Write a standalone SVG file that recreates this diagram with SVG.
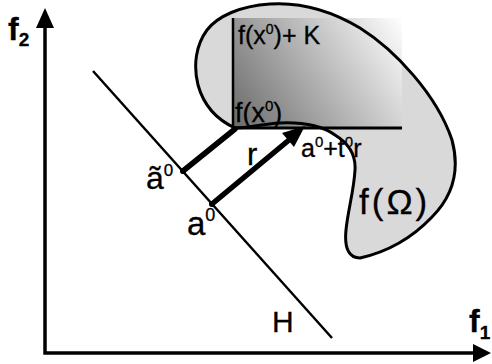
<svg xmlns="http://www.w3.org/2000/svg" width="492" height="364" viewBox="0 0 492 364">
<style>
.lbl{font-family:"Liberation Sans",Arial,sans-serif;fill:#000;stroke:#000;stroke-width:0.3}
.ax{stroke:#000;stroke-width:3.5;fill:none}
.thick{stroke:#000;stroke-width:5.5;fill:none;stroke-linecap:round}
.thin{stroke:#000;stroke-width:2.5;fill:none}
</style>
<defs>
<linearGradient id="cg" gradientUnits="userSpaceOnUse" x1="233" y1="128" x2="402" y2="18">
<stop offset="0" stop-color="#6a6a6a"/>
<stop offset="1" stop-color="#ffffff"/>
</linearGradient>
</defs>
<rect width="492" height="364" fill="#fff"/>
<g id="region">
<path id="blobfill" d="M235,128 C222,122 205,110 198,85 C193,65 196,45 207,30 C218,16 240,6 270,4 C300,2 330,10 360,28 C395,50 437,95 452,140 C460,170 454,195 432,217 C412,238 387,252 360,258 C350,258 344,250 346,230 C348,210 354,190 355,170 C356,155 348,143 335,135 C322,126 305,122 280,123 C262,124 248,128 235,128 Z" fill="#d9d9d9"/>
</g>
<g id="cone">
<rect x="233" y="18" width="169" height="110" fill="url(#cg)"/>
<line class="thin" x1="233" y1="18" x2="233" y2="129"/>
<line x1="232" y1="128" x2="402" y2="128" stroke="#000" stroke-width="3"/>
<text class="lbl" x="238" y="44" font-size="25">f(x<tspan font-size="14" dy="-10">0</tspan><tspan dy="10">)+ K</tspan></text>
<text class="lbl" x="235" y="122" font-size="27">f(x<tspan font-size="15" dy="-11">0</tspan><tspan dy="11">)</tspan></text>
</g>
<g id="region-outline">
<path d="M235,128 C222,122 205,110 198,85 C193,65 196,45 207,30 C218,16 240,6 270,4 C300,2 330,10 360,28 C395,50 437,95 452,140 C460,170 454,195 432,217 C412,238 387,252 360,258 C350,258 344,250 346,230 C348,210 354,190 355,170 C356,155 348,143 335,135 C322,126 305,122 280,123 C262,124 248,128 235,128 Z" fill="none" stroke="#000" stroke-width="3"/>
<text class="lbl" x="359" y="214" font-size="35" letter-spacing="3">f(Ω)</text>
</g>
<g id="line-H">
<line class="thin" x1="93" y1="71" x2="332" y2="338"/>
<text class="lbl" x="272" y="332" font-size="30">H</text>
</g>
<g id="point-a-tilde">
<circle cx="183" cy="171" r="3" fill="#000"/>
<text class="lbl" x="146" y="189" font-size="32">ã<tspan font-size="17" dy="-13">0</tspan></text>
</g>
<g id="point-a">
<circle cx="212" cy="204" r="3" fill="#000"/>
<text class="lbl" x="187" y="235" font-size="33">a<tspan font-size="18" dy="-14">0</tspan></text>
</g>
<g id="point-at">
<text class="lbl" x="301" y="157" font-size="25">a<tspan font-size="15" dy="-10">0</tspan><tspan dy="10">+t</tspan><tspan font-size="15" dy="-10">0</tspan><tspan dy="10">r</tspan></text>
</g>
<g id="connectors">
<line class="thick" x1="183" y1="171" x2="235" y2="129"/>
<line class="thick" x1="212" y1="204" x2="289" y2="140"/>
<polygon points="305,126 294,147 282,133" fill="#000"/>
<text class="lbl" x="247" y="165" font-size="31">r</text>
</g>
<g id="axes">
<polyline class="ax" points="45,24 45,353 476,353"/>
<polygon points="45,8 36,28 54,28" fill="#000"/>
<polygon points="491,353 473,344 473,362" fill="#000"/>
<text class="lbl" x="8" y="40" font-size="32" font-weight="bold">f<tspan font-size="19" dy="6">2</tspan></text>
<text class="lbl" x="469" y="332" font-size="32" font-weight="bold">f<tspan font-size="19" dy="7">1</tspan></text>
</g>
</svg>
